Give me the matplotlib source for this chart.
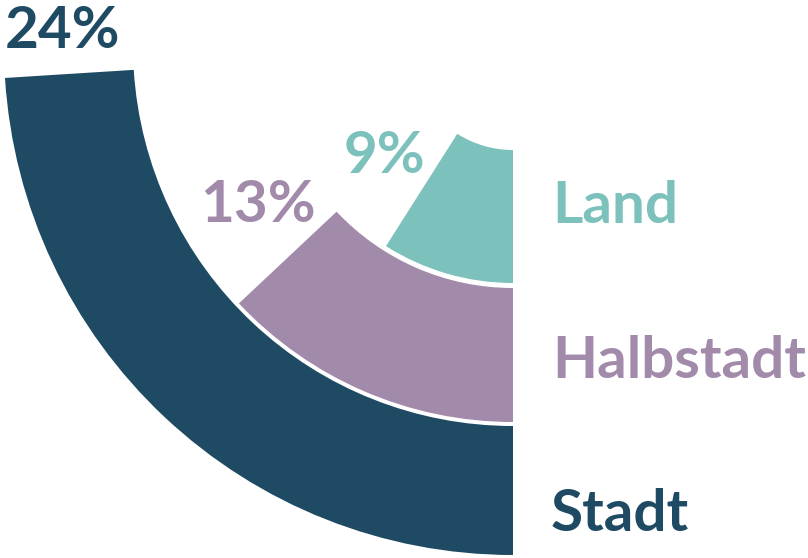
import numpy as np
import matplotlib
matplotlib.use('Agg')
import matplotlib.pyplot as plt

# data
categories = ['Stadt', 'Halbstadt', 'Land']
shares = [24, 13, 9]
colours = ['#1f4a63', '#a28aab', '#7dc1bd']

# ring radii (inner, outer) in pixels, center of the rings at (513, 46) from top
rings = [(380, 509), (242, 376), (104, 237)]

W, H = 808, 558
fig = plt.figure(figsize=(W / 100, H / 100), dpi=100)

cx, cy = 513, H - 46
rmax = 510
ax = fig.add_axes([(cx - rmax) / W, (cy - rmax) / H, 2 * rmax / W, 2 * rmax / H],
                  projection='polar')
ax.set_theta_zero_location('S')
ax.set_theta_direction(-1)
ax.set_ylim(0, rmax)
ax.axis('off')

for val, col, (r0, r1) in zip(shares, colours, rings):
    ax.bar(0, r1 - r0, width=val / 100 * 2 * np.pi, bottom=r0,
           align='edge', color=col, linewidth=0)

font = 'Lato'
fs = 42

def put(x, y, s, col):
    fig.text(x / W, 1 - y / H, s, color=col, fontsize=fs, fontweight='bold',
             family=font, ha='left', va='baseline')

# category labels at the right
put(552, 223, 'Land', colours[2])
put(552, 378, 'Halbstadt', colours[1])
put(551, 531, 'Stadt', colours[0])

# percentage labels
put(5, 48, f'{shares[0]}%', colours[0])
put(200, 222, f'{shares[1]}%', colours[1])
put(344, 173, f'{shares[2]}%', colours[2])

fig.savefig('out.png', dpi=100)
